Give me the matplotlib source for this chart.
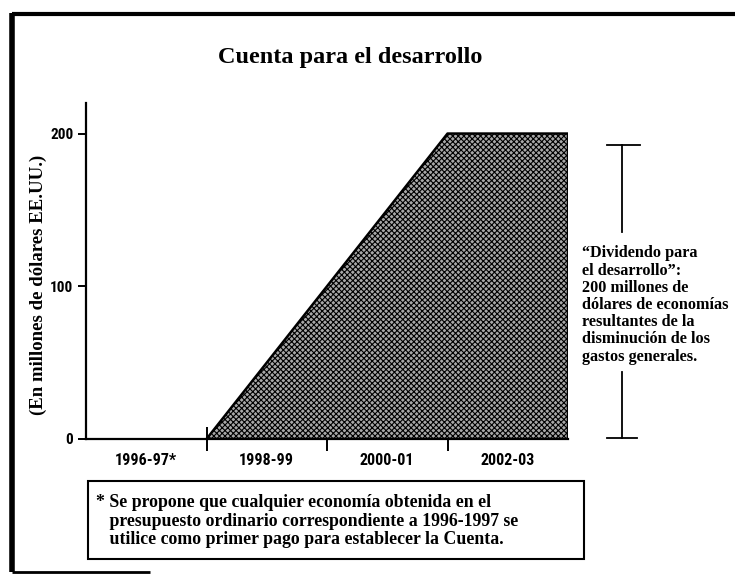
import matplotlib

matplotlib.use("Agg")
import matplotlib.pyplot as plt
from matplotlib.lines import Line2D
from matplotlib.patches import Rectangle

W, H = 735, 579

# data: account size (millions USD) at period boundaries
periods = ["1996-97*", "1998-99", "2000-01", "2002-03"]
boundaries = [1, 2, 3, 4]
cuenta = [0, 100, 200, 200]
yticks = [0, 100, 200]

title = "Cuenta para el desarrollo"
ylabel = "(En millones de dólares EE.UU.)"
side_note = ("\u201cDividendo para\nel desarrollo\u201d:\n200 millones de\n"
             "dólares de economías\nresultantes de la\ndisminución de los\n"
             "gastos generales.")
footnote = ("* Se propone que cualquier economía obtenida en el\n"
            "   presupuesto ordinario correspondiente a 1996-1997 se\n"
            "   utilice como primer pago para establecer la Cuenta.")

SERIF = ["Liberation Serif", "DejaVu Serif"]
TICKFONT = dict(family=["Roboto Condensed", "DejaVu Sans"],
                stretch="condensed", fontweight="bold")
plt.rcParams["hatch.linewidth"] = 0.8


def fx(x):
    return x / W


def fy(y):
    return 1 - y / H


fig = plt.figure(figsize=(W / 100, H / 100), dpi=100)
fig.patch.set_facecolor("white")

# plot area (pixels: left 86, right 568, top 103, bottom 439)
ax = fig.add_axes([fx(86), fy(439), fx(568) - fx(86), fy(103) - fy(439)])
ax.fill_between(boundaries, cuenta, facecolor="#a8a8a8", edgecolor="black",
                hatch="xxxxxx", linewidth=1.8, zorder=2)
ax.set_xlim(0, 4)
ax.set_ylim(0, 220)

for s in ("top", "right"):
    ax.spines[s].set_visible(False)
for s in ("left", "bottom"):
    ax.spines[s].set_linewidth(1.6)

ax.set_yticks(yticks)
ax.set_yticklabels([str(v) for v in yticks], fontsize=11, **TICKFONT)
ax.tick_params(axis="y", direction="out", length=6, width=1.4, pad=3)

ax.set_xticks(boundaries[:-1])
ax.set_xticklabels([])
ax.tick_params(axis="x", which="major", direction="inout", length=17,
               width=1.4)
ax.set_xticks([i + 0.5 for i in range(len(periods))], minor=True)
ax.set_xticklabels(periods, minor=True, fontsize=11.5, **TICKFONT)
ax.tick_params(axis="x", which="minor", length=0, pad=10)

fig.text(fx(350), fy(57), title, family=SERIF, fontweight="bold",
         fontsize=17.5, ha="center", va="center")
fig.text(fx(38), fy(285), ylabel, family=SERIF, fontweight="bold",
         fontsize=13.5, rotation=90, ha="center", va="center")

# bracket on the right
for x0, x1, y0, y1 in [(622, 622, 145, 232), (607, 640, 145, 145),
                       (622, 622, 372, 438), (607, 637, 438, 438)]:
    fig.add_artist(Line2D([fx(x0), fx(x1)], [fy(y0), fy(y1)],
                          color="black", lw=1.3))
fig.text(fx(582), fy(305), side_note, family=SERIF, fontweight="bold",
         fontsize=11.7, ha="left", va="center", linespacing=1.1)

# footnote box
fig.add_artist(Rectangle((fx(88), fy(559)), fx(584) - fx(88),
                         fy(481) - fy(559), fill=False, lw=1.5,
                         edgecolor="black"))
fig.text(fx(96), fy(521), footnote, family=SERIF, fontweight="bold",
         fontsize=12.8, ha="left", va="center", linespacing=1.1)

# page frame
for x0, x1, y0, y1, lw in [(12, 12, 13, 572, 4), (12, 735, 14, 14, 3),
                           (12, 150, 572, 572, 2)]:
    fig.add_artist(Line2D([fx(x0), fx(x1)], [fy(y0), fy(y1)],
                          color="black", lw=lw, solid_capstyle="butt"))

fig.savefig("out.png", dpi=100)
